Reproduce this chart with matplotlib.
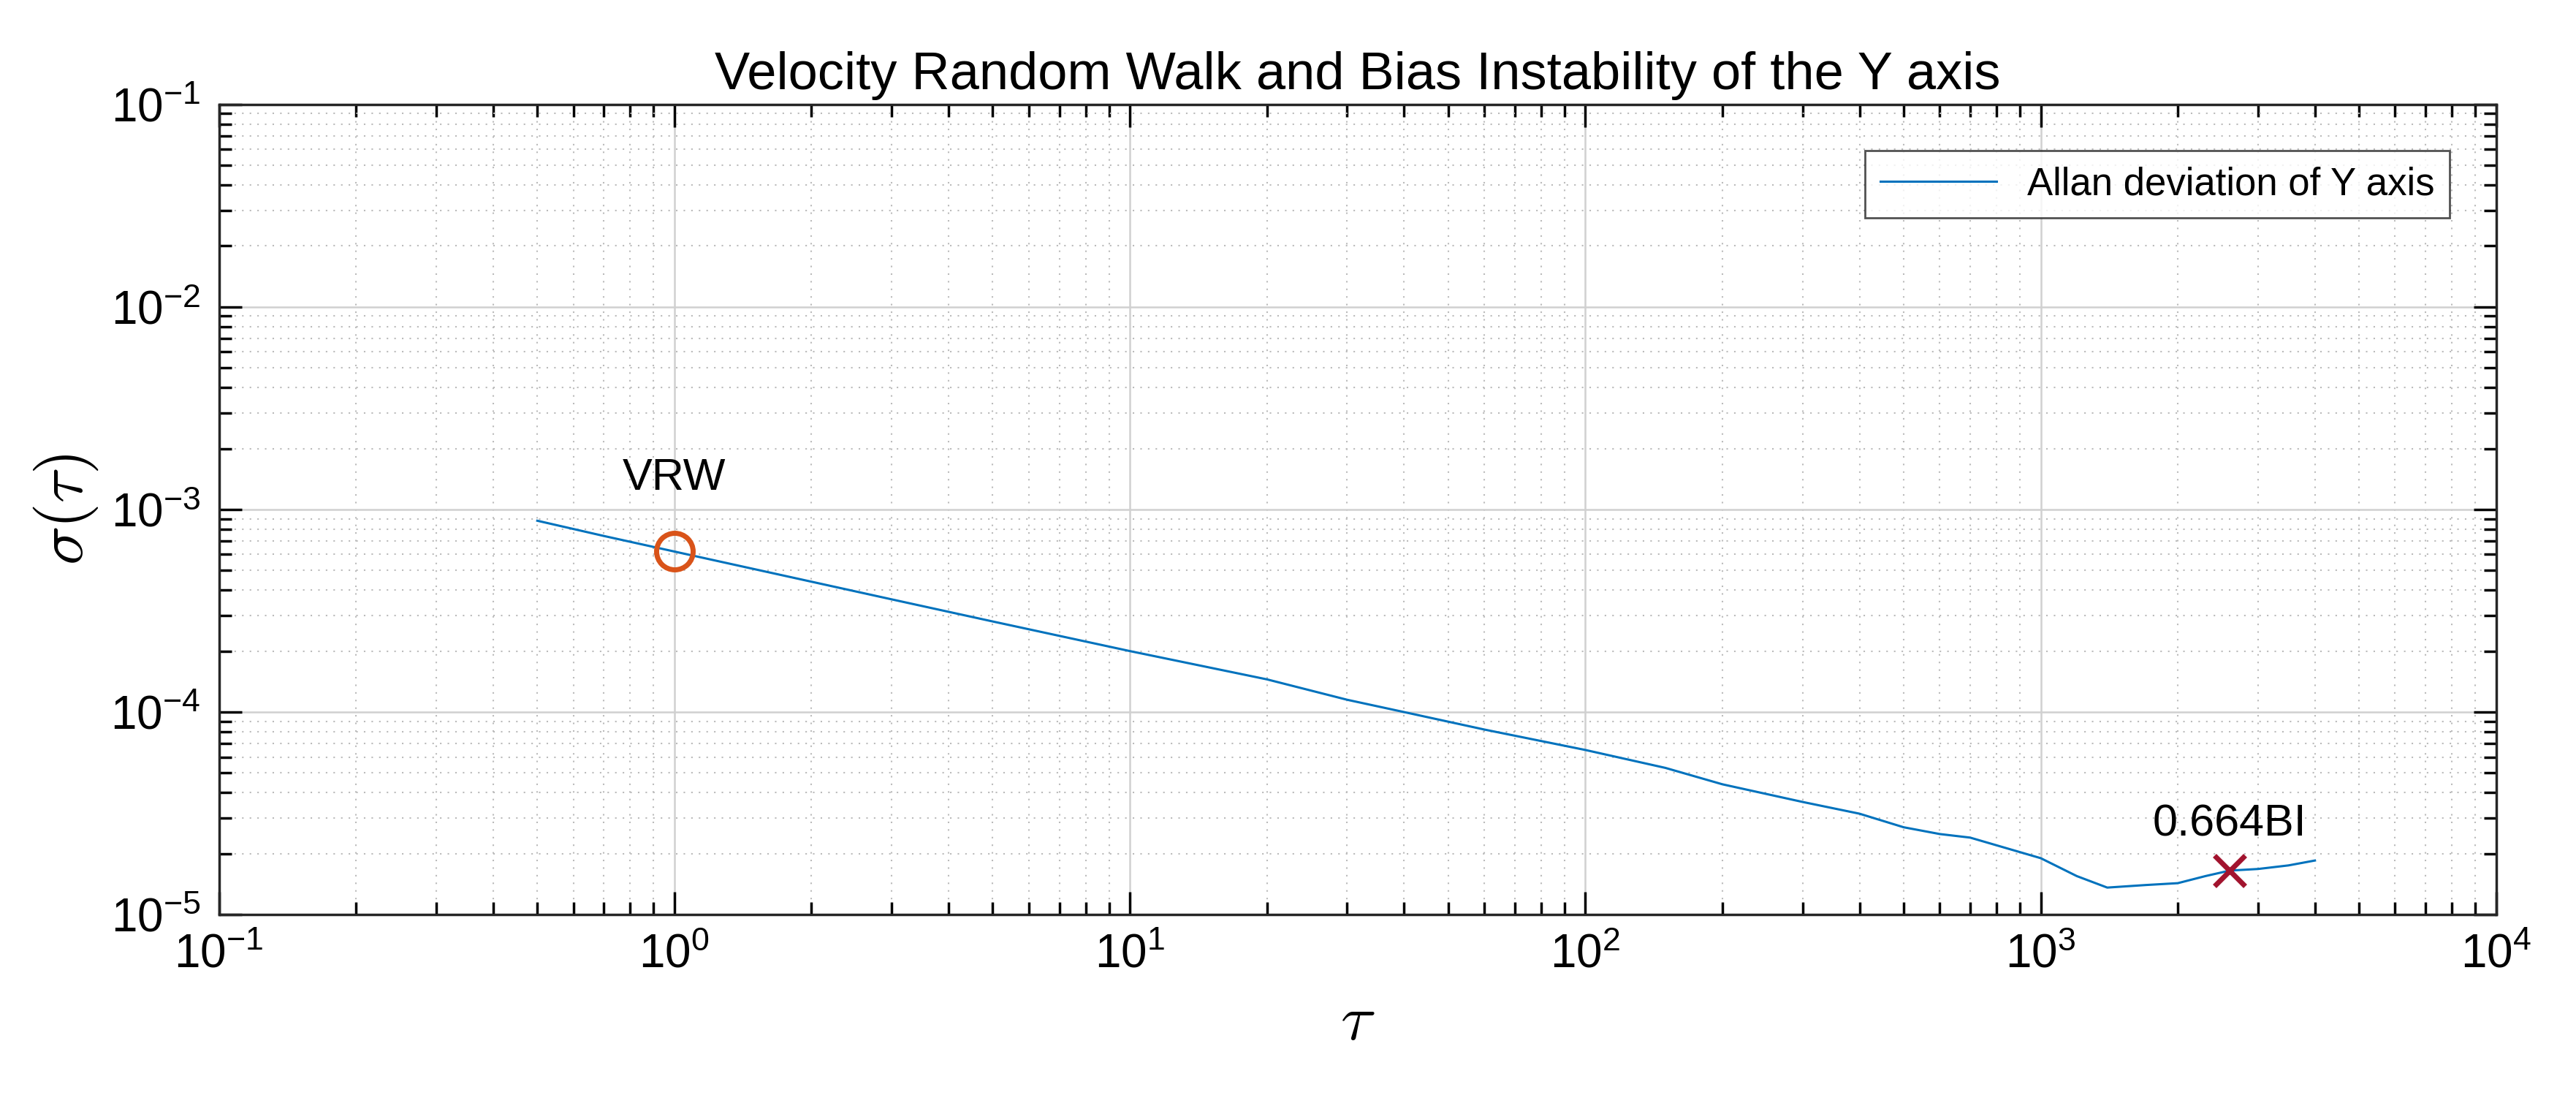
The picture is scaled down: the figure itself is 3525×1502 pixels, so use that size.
import matplotlib
matplotlib.use("Agg")
import matplotlib.pyplot as plt
import numpy as np

plt.rcParams['font.family'] = ['Liberation Sans', 'DejaVu Sans']
plt.rcParams['mathtext.fontset'] = 'cm'

tau = [0.5, 0.7, 1, 2, 3, 5, 10, 20, 30, 40, 60, 100, 150, 200, 300, 400, 500, 600, 700, 1000, 1200, 1400, 1700, 2000, 2300, 2600, 3000, 3500, 4000]
adev = [8.8e-4, 7.4e-4, 6.2e-4, 4.4e-4, 3.6e-4, 2.8e-4, 2.0e-4, 1.45e-4, 1.15e-4, 1.0e-4, 8.2e-5, 6.5e-5, 5.3e-5, 4.4e-5, 3.6e-5, 3.15e-5, 2.7e-5, 2.5e-5, 2.4e-5, 1.9e-5, 1.55e-5, 1.36e-5, 1.4e-5, 1.43e-5, 1.55e-5, 1.65e-5, 1.68e-5, 1.75e-5, 1.85e-5]
vrw_tau, vrw_val = 1.0, 6.2e-4
bi_tau, bi_val = 2600.0, 1.65e-5

fig = plt.figure(figsize=(35.25, 15.02), dpi=100)
ax = fig.add_axes([0.085, 0.167, 0.884, 0.738])
ax.loglog(tau, adev, color='#0072BD', lw=2.2, label='Allan deviation of Y axis')
ax.plot(vrw_tau, vrw_val, 'o', ms=36, mfc='none', mec='#D95319', mew=5)
ax.plot(bi_tau, bi_val, 'x', ms=30, mec='#A2142F', mew=5)
ax.text(vrw_tau, 1.12e-3, 'VRW', fontsize=44, ha='center', va='bottom')
ax.text(bi_tau, 2.2e-5, '0.664BI', fontsize=44, ha='center', va='bottom')
ax.set_xlim(0.1, 1e4)
ax.set_ylim(1e-5, 1e-1)
ax.grid(True, which='major', color='#d0d0d0', lw=1.8)
ax.grid(True, which='minor', color='#bbbbbb', lw=1.5, ls=(0, (1, 4)))
ax.tick_params(which='both', direction='in', top=True, right=True, labelsize=46, width=2.5)
ax.tick_params(which='major', length=22, pad=18)
ax.tick_params(which='minor', length=12)
for s in ax.spines.values():
    s.set_linewidth(2.5)
    s.set_color('#262626')
ax.set_xlabel(r'$\tau$', fontsize=64, labelpad=15)
ax.set_ylabel(r'$\sigma(\tau)$', fontsize=64, labelpad=10)
ax.set_title('Velocity Random Walk and Bias Instability of the Y axis', fontsize=52, pad=15)
leg = ax.legend(loc='upper right', fontsize=38, fancybox=False, edgecolor='#262626', handlelength=3, borderaxespad=1.2)
leg.get_frame().set_linewidth(2)
fig.savefig('out.png', dpi=100, facecolor='white')
